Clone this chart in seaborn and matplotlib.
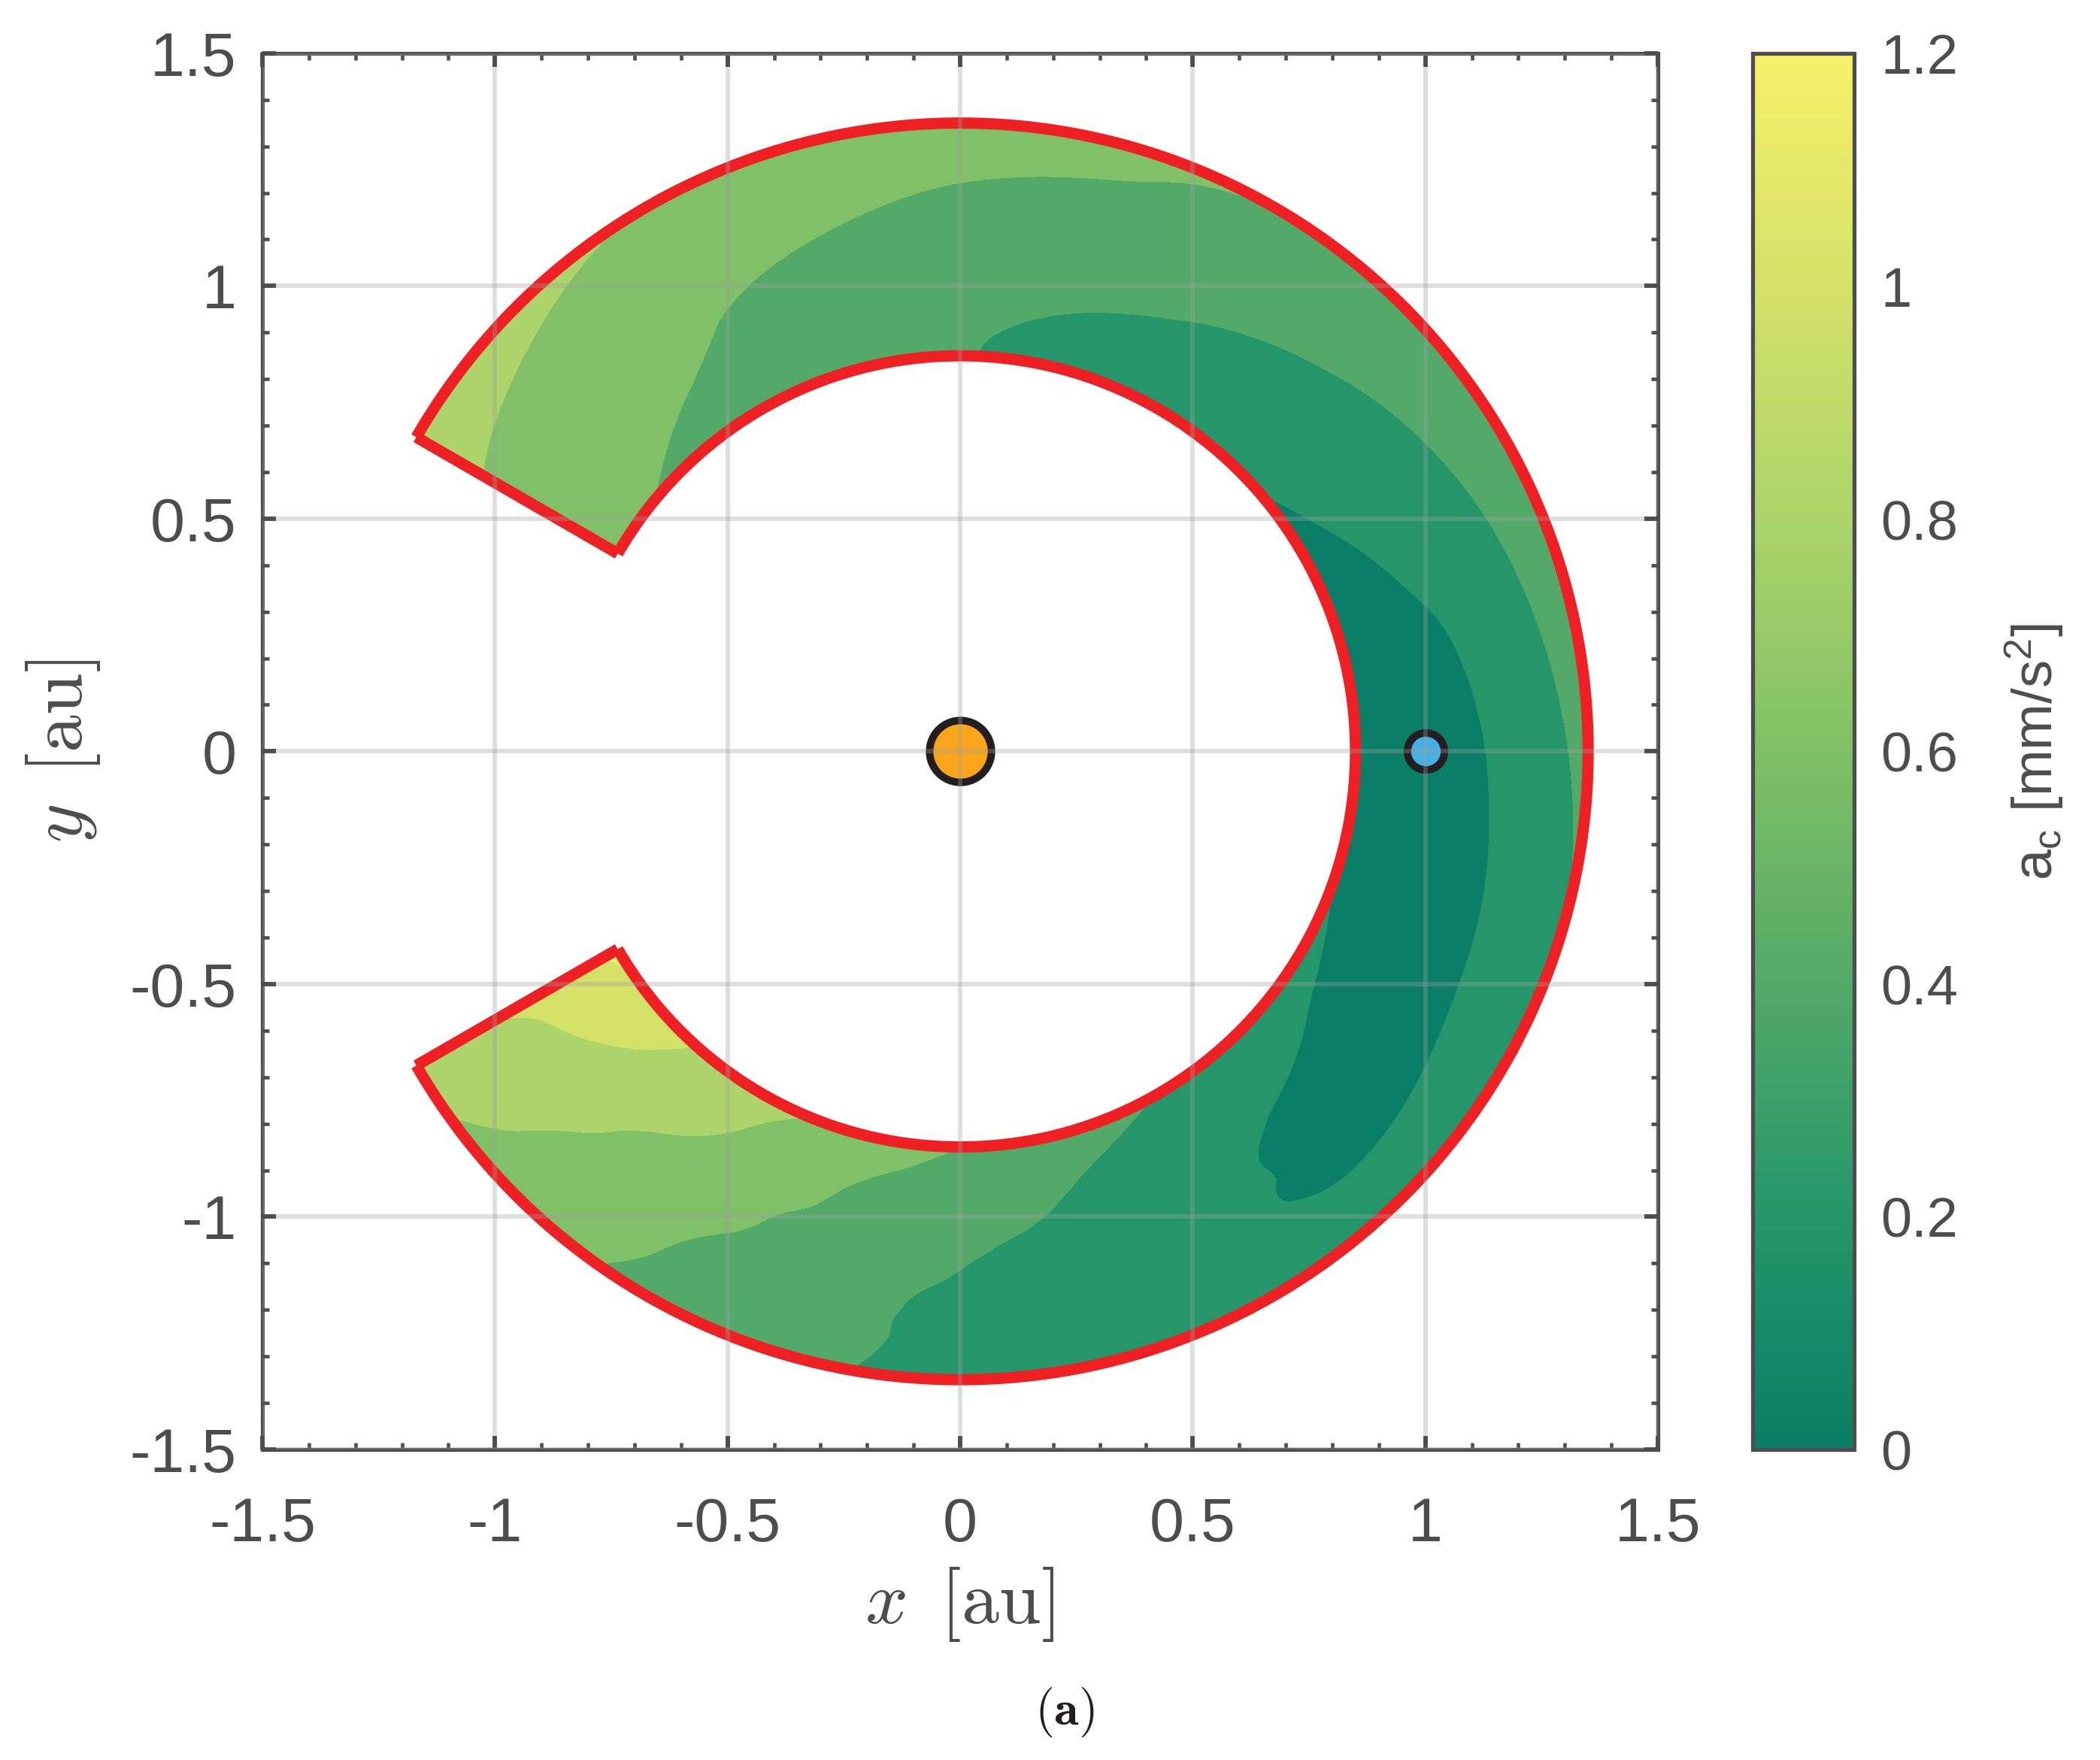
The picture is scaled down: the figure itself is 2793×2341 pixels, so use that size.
import numpy as np
import seaborn as sns
import matplotlib.pyplot as plt
import matplotlib.tri as mtri
from matplotlib.cm import ScalarMappable
from matplotlib.colors import Normalize
from matplotlib.ticker import MultipleLocator

# polar grid of the annulus (angle in deg, radius in au)
theta_deg = [-150, -135, -120, -105, -90, -75, -60, -45, -30, -15, 0,
             15, 30, 45, 60, 75, 90, 105, 120, 135, 150]
radius = [0.85, 0.95, 1.05, 1.15, 1.25, 1.35]

# a_c, one list per radius, in theta_deg order
ac_r085 = [1.25, 1.04, .88, .73, .60, .495, .395, .315, .245, .175, .125, .115, .16, .215, .27, .335, .41, .46, .515, .57, .67]
ac_r095 = [1.14, .97, .79, .615, .51, .405, .32, .235, .15, .075, .05, .125, .21, .275, .33, .385, .44, .50, .565, .625, .71]
ac_r105 = [1.05, .875, .70, .555, .44, .35, .26, .155, .115, .09, .105, .185, .275, .34, .395, .445, .495, .545, .60, .665, .75]
ac_r115 = [.995, .805, .64, .50, .38, .31, .235, .165, .165, .185, .225, .28, .345, .405, .46, .51, .555, .60, .65, .72, .79]
ac_r125 = [.93, .75, .59, .455, .36, .295, .245, .215, .26, .30, .34, .385, .435, .485, .53, .585, .62, .665, .72, .78, .83]
ac_r135 = [.86, .70, .55, .43, .355, .315, .31, .32, .36, .40, .44, .475, .51, .55, .60, .635, .685, .73, .79, .84, .88]

levels = [0, 0.2, 0.4, 0.6, 0.8, 1.0, 1.2]
level_colors = ["#0a7e66", "#25966a", "#53a968", "#80c066", "#acd46a", "#d4e169", "#f7f06a"]

axis_ticks = [-1.5, -1, -0.5, 0, 0.5, 1, 1.5]
axis_labels = ["-1.5", "-1", "-0.5", "0", "0.5", "1", "1.5"]
cbar_labels = ["0", "0.2", "0.4", "0.6", "0.8", "1", "1.2"]

sun_x, sun_y = [0], [0]
earth_x, earth_y = [1], [0]

GREY = "#4d4d4f"
RED = "#ee2024"

sns.set_style("ticks")
plt.rcParams["font.family"] = ["Liberation Sans", "DejaVu Sans"]
plt.rcParams["mathtext.fontset"] = "cm"
plt.rcParams["axes.unicode_minus"] = False

W, H = 2793, 2341
fig = plt.figure(figsize=(W / 300, (H + 0.2) / 300), facecolor="white")
ax = fig.add_axes([349 / W, 1 - 1928 / H, 1856 / W, 1857 / H])
cax = fig.add_axes([2331 / W, 1 - 1928 / H, 135 / W, 1857 / H])

# smooth the table with matplotlib's own interpolator, then go to x-y
ac = np.array([ac_r085, ac_r095, ac_r105, ac_r115, ac_r125, ac_r135]).T
th_mesh, r_mesh = np.meshgrid(np.deg2rad(theta_deg), radius, indexing="ij")
tri_polar = mtri.Triangulation(th_mesh.ravel(), r_mesh.ravel())
smooth = mtri.CubicTriInterpolator(tri_polar, ac.ravel(), kind="min_E")
refiner = mtri.UniformTriRefiner(tri_polar)
tri_fine, ac_fine = refiner.refine_field(ac.ravel(), triinterpolator=smooth, subdiv=4)
tri_xy = mtri.Triangulation(tri_fine.y * np.cos(tri_fine.x),
                            tri_fine.y * np.sin(tri_fine.x),
                            triangles=tri_fine.triangles)
ax.tricontourf(tri_xy, ac_fine, levels=levels, extend="both", zorder=1,
               colors=[level_colors[0]] + level_colors)

# red outline: two arcs and the two end cuts
th_line = np.deg2rad(np.linspace(theta_deg[0], theta_deg[-1], 400))
for r in (radius[0], radius[-1]):
    ax.plot(r * np.cos(th_line), r * np.sin(th_line), color=RED, lw=3.6,
            solid_capstyle="butt", zorder=2)
for th in (th_line[0], th_line[-1]):
    ax.plot([radius[0] * np.cos(th), radius[-1] * np.cos(th)],
            [radius[0] * np.sin(th), radius[-1] * np.sin(th)],
            color=RED, lw=3.6, solid_capstyle="butt", zorder=2)

sns.scatterplot(x=sun_x, y=sun_y, ax=ax, s=390, color="#fba51a",
                edgecolor="#231f20", linewidth=2.4, zorder=2, clip_on=False)
sns.scatterplot(x=earth_x, y=earth_y, ax=ax, s=140, color="#44b0e4",
                edgecolor="#231f20", linewidth=2.4, zorder=2, clip_on=False)

ax.set_xlim(-1.5, 1.5)
ax.set_ylim(-1.5, 1.5)
ax.set_xticks(axis_ticks, axis_labels)
ax.set_yticks(axis_ticks, axis_labels)
ax.xaxis.set_minor_locator(MultipleLocator(0.1))
ax.yaxis.set_minor_locator(MultipleLocator(0.1))
ax.set_axisbelow(False)
ax.grid(True, which="major", color="#a0a0a0", alpha=0.33, lw=1.44)
ax.tick_params(which="major", direction="in", top=True, right=True, length=4.4,
               width=1.4, color=GREY, labelcolor=GREY, labelsize=19.8)
ax.tick_params(which="minor", direction="in", top=True, right=True, length=2.2,
               width=1.1, color=GREY)
ax.tick_params(axis="x", which="major", pad=15)
ax.tick_params(axis="y", which="major", pad=8.2)
for spine in ax.spines.values():
    spine.set_color(GREY)
    spine.set_linewidth(1.25)

fig.text(1276 / W, 1 - 2134 / H, r"$x\ \,[\mathrm{au}]$", color=GREY, fontsize=24,
         ha="center", va="center")
fig.text(84 / W, 1 - 999 / H, r"$y\ \,[\mathrm{au}]$", color=GREY, fontsize=24,
         ha="center", va="center", rotation=90)
fig.text(1416 / W, 1 - 2277 / H, r"$(\mathbf{a})$", color="#231f20", fontsize=16,
         ha="center", va="center")

# colour bar keeps the continuous ramp
cmap = sns.blend_palette(level_colors, as_cmap=True)
cbar = fig.colorbar(ScalarMappable(Normalize(levels[0], levels[-1]), cmap), cax=cax)
cbar.set_ticks(levels, labels=cbar_labels)
cbar.ax.tick_params(direction="in", length=4.8, width=1.25, color=GREY,
                    labelcolor=GREY, labelsize=17.8, pad=8.4)
cbar.outline.set_edgecolor(GREY)
cbar.outline.set_linewidth(1.25)
fig.text(2706 / W, 1 - 1000 / H, r"$\mathregular{a_c\ [mm/s^2]}$", color=GREY, fontsize=17.8,
         ha="center", va="center", rotation=90)

plt.savefig("out.png", dpi=300)
